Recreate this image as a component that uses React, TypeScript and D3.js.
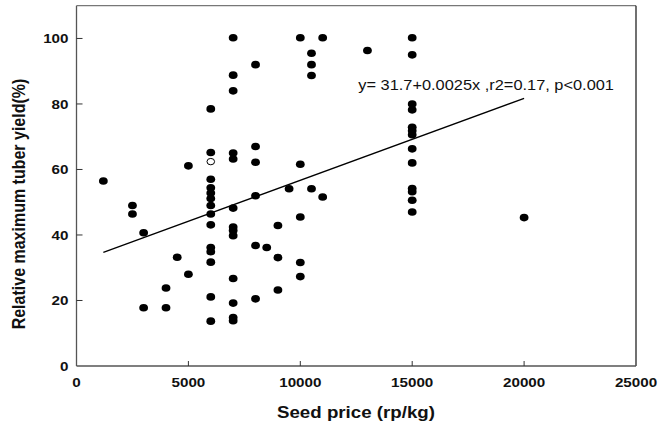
import React from "react";
import * as d3 from "d3";

const xs: number[] = [
  1200,
  2500, 2500,
  3000, 3000,
  4000, 4000,
  4500,
  5000, 5000,
  6000, 6000, 6000, 6000, 6000, 6000, 6000, 6000, 6000, 6000, 6000, 6000, 6000, 6000,
  7000, 7000, 7000, 7000, 7000, 7000, 7000, 7000, 7000, 7000, 7000, 7000, 7000,
  8000, 8000, 8000, 8000, 8000, 8000,
  8500,
  9000, 9000, 9000,
  9500,
  10000, 10000, 10000, 10000, 10000,
  10500, 10500, 10500, 10500,
  11000, 11000,
  13000,
  15000, 15000, 15000, 15000, 15000, 15000, 15000, 15000, 15000, 15000, 15000, 15000, 15000,
  20000,
];
const ys: number[] = [
  56.5,
  49.0, 46.4,
  40.7, 17.8,
  23.8, 17.8,
  33.2,
  61.1, 28.0,
  78.5, 65.2, 57.0, 54.4, 52.8, 51.1, 49.0, 46.4, 43.1, 36.2, 34.9, 31.7, 21.1, 13.7,
  100.2, 88.8, 84.0, 65.0, 63.2, 48.2, 42.4, 41.4, 39.8, 26.7, 19.2, 14.8, 13.8,
  92.0, 67.0, 62.2, 52.0, 36.8, 20.5,
  36.2,
  42.9, 33.1, 23.2,
  54.1,
  100.2, 61.6, 45.5, 31.6, 27.3,
  95.5, 92.0, 88.7, 54.1,
  100.2, 51.6,
  96.3,
  100.2, 95.0, 80.0, 78.2, 72.9, 71.8, 70.6, 66.3, 62.0, 54.2, 53.2, 50.6, 47.0,
  45.3,
];
const openX: number[] = [6000];
const openY: number[] = [62.4];

const fitX: number[] = [1200, 20000];
const fitY: number[] = [34.7, 81.7];

const xTicks: number[] = [0, 5000, 10000, 15000, 20000, 25000];
const yTicks: number[] = [0, 20, 40, 60, 80, 100];

const equation = "y= 31.7+0.0025x ,r2=0.17, p<0.001";
const xTitle = "Seed price (rp/kg)";
const yTitle = "Relative maximum tuber yield(%)";

const FONT = "'Liberation Sans', Arial, sans-serif";
const SX = 1.17;

export default function App() {
  const x = d3.scaleLinear().domain([0, 25000]).range([76.5, 636]);
  const y = d3.scaleLinear().domain([0, 110]).range([366, 5.7]);
  const line = d3
    .line<number>()
    .x((_, i) => x(fitX[i]))
    .y((d) => y(d));

  return (
    <svg
      width={658}
      height={427}
      style={{ position: "absolute", left: 0, top: 0, background: "#fff" }}
    >
      {/* frame */}
      <line x1={x(0)} x2={x(25000)} y1={y(110)} y2={y(110)} stroke="#777" strokeWidth={1.2} />
      <line x1={x(25000)} x2={x(25000)} y1={y(110)} y2={y(0)} stroke="#111" strokeWidth={1.2} />
      <line x1={x(0)} x2={x(25000)} y1={y(0)} y2={y(0)} stroke="#555" strokeWidth={1.3} />
      <line x1={x(0)} x2={x(0)} y1={y(110)} y2={y(0)} stroke="#555" strokeWidth={1.3} />

      {/* x ticks */}
      {xTicks.map((t) => (
        <g key={"xt" + t}>
          {t > 0 && t < 25000 && (
            <line x1={x(t)} x2={x(t)} y1={y(0)} y2={y(0) - 5} stroke="#333" strokeWidth={1} />
          )}
          <text
            transform={`translate(${x(t)},386.7) scale(${SX},1)`}
            textAnchor="middle"
            fontFamily={FONT}
            fontWeight="bold"
            fontSize={13}
            fill="#111"
          >
            {t}
          </text>
        </g>
      ))}

      {/* y ticks */}
      {yTicks.map((t) => (
        <g key={"yt" + t}>
          {t > 0 && (
            <line x1={x(0)} x2={x(0) + 6} y1={y(t)} y2={y(t)} stroke="#333" strokeWidth={1} />
          )}
          <text
            transform={`translate(68.5,${y(t) + 4.6}) scale(${SX},1)`}
            textAnchor="end"
            fontFamily={FONT}
            fontWeight="bold"
            fontSize={13}
            fill="#111"
          >
            {t}
          </text>
        </g>
      ))}

      {/* titles */}
      <text
        transform={`translate(356,418) scale(${SX},1)`}
        textAnchor="middle"
        fontFamily={FONT}
        fontWeight="bold"
        fontSize={16}
        fill="#111"
      >
        {xTitle}
      </text>
      <text
        transform={`translate(25,204) scale(${SX},1) rotate(-90)`}
        textAnchor="middle"
        fontFamily={FONT}
        fontWeight="bold"
        fontSize={16}
        fill="#111"
      >
        {yTitle}
      </text>

      {/* regression line */}
      <path d={line(fitY) || ""} fill="none" stroke="#000" strokeWidth={1.3} />

      {/* points */}
      {xs.map((v, i) => (
        <ellipse key={"p" + i} cx={x(v)} cy={y(ys[i])} rx={4.4} ry={3.8} fill="#000" />
      ))}
      {openX.map((v, i) => (
        <ellipse
          key={"o" + i}
          cx={x(v)}
          cy={y(openY[i])}
          rx={3.8}
          ry={3.2}
          fill="#fff"
          stroke="#000"
          strokeWidth={1}
        />
      ))}

      {/* equation */}
      <text
        transform={`translate(358.3,90) scale(${SX},1)`}
        fontFamily={FONT}
        fontSize={14}
        fill="#111"
      >
        {equation}
      </text>
    </svg>
  );
}
